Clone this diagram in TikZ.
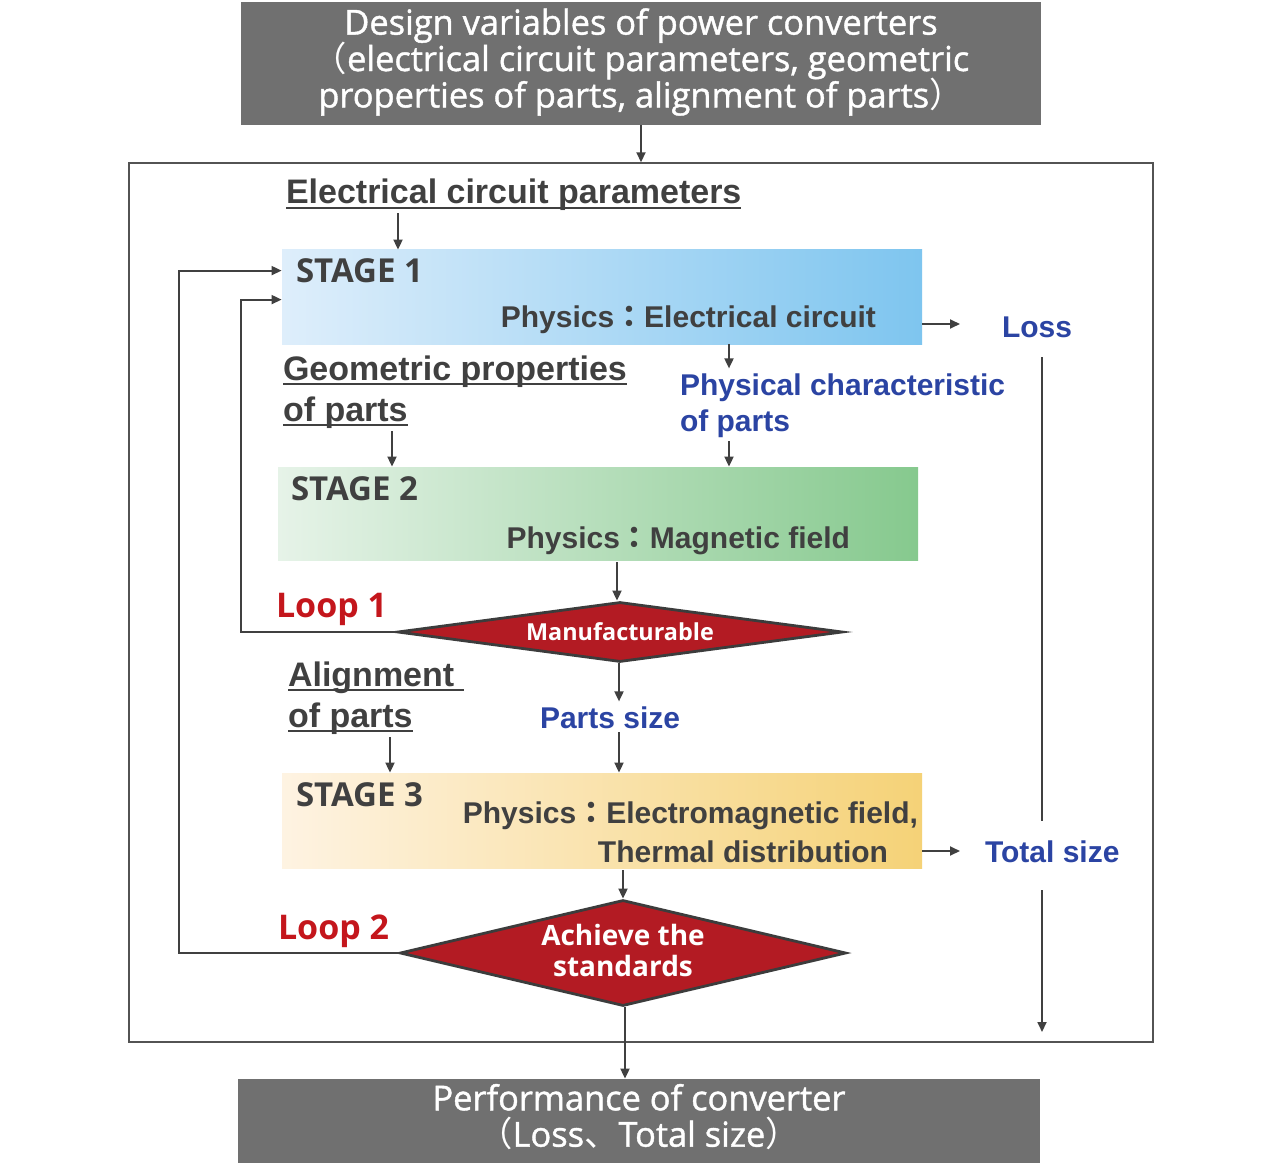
\documentclass[tikz,border=0pt]{standalone}
\usepackage{fontspec}
\usetikzlibrary{arrows.meta,shapes.geometric,calc}
\setmainfont{Liberation Sans}
\newfontfamily\osans{Open Sans}
\newfontfamily\cjk{Noto Sans CJK JP}
\newfontfamily\boxfont{Open Sans}[FakeBold=1.2]
\newfontfamily\boxcjk{Noto Sans CJK JP}
\definecolor{boxgray}{HTML}{707070}
\definecolor{dark}{HTML}{404040}
\definecolor{lblue}{HTML}{2B44A3}
\definecolor{lred}{HTML}{C4161C}
\definecolor{dfill}{HTML}{B31B23}
\definecolor{dline}{HTML}{3C3C3C}
\newcommand{\myul}[1]{\setbox0\hbox{#1}\rlap{\raisebox{-2.6pt}{\rule{\wd0}{1pt}}}\box0}
\newcommand{\fw}[1]{\smash{\cjk\bfseries #1}}
\newcommand{\bw}[1]{\smash{\boxcjk #1}}
\begin{document}
\begin{tikzpicture}[x=0.5pt,y=-0.5pt,
  arr/.style={draw=dark,line width=0.9pt,-{Triangle[length=5pt,width=4.5pt]}},
  lbl/.style={inner sep=0,outer sep=0,font=\fontsize{17}{20.5}\selectfont\bfseries,text=dark,align=left},
  plbl/.style={lbl,font=\fontsize{15}{19.5}\selectfont\bfseries},
  slbl/.style={lbl,font=\fontsize{16.5}{20}\selectfont\osans\bfseries},
  blbl/.style={lbl,text=lblue,font=\fontsize{15}{18}\selectfont\bfseries},
  rlbl/.style={lbl,text=lred,font=\fontsize{17}{20}\selectfont\osans\bfseries},
  graybox/.style={fill=boxgray,draw=none,text=white,font=\fontsize{17.2}{18.2}\selectfont\boxfont,align=center,inner sep=0},
  stagebox/.style={draw=none,inner sep=0,minimum width=320pt,minimum height=47pt},
  dia/.style={diamond,fill=dfill,draw=dline,line width=1.4pt,inner sep=0,text=white,align=center}
]
\useasboundingbox (0,0) rectangle (1284,1166);
\fill[white] (0,0) rectangle (1284,1166);

% frame
\node[draw=dark!90,line width=0.7pt,minimum width=512pt,minimum height=439.5pt,inner sep=0] (frame) at (641,602.5) {};

% top box
\node[graybox,minimum width=400pt,minimum height=61.5pt] (top) at (641,63.5) {};
\node[graybox,fill=none] (topt) at (641,62)
  {Design variables of power converters\\\bw{（}electrical circuit parameters, geometric\\properties of parts, alignment of parts\bw{）}};

% bottom box
\node[graybox,minimum width=401pt,minimum height=42pt] (bot) at (639,1121) {};
\node[graybox,fill=none] (bott) at (639,1115.5)
  {Performance of converter\\\bw{（}Loss\bw{、}Total size\bw{）}};

% stage boxes
\node[stagebox,left color={rgb,255:red,222;green,238;blue,251},right color={rgb,255:red,126;green,197;blue,239}] (s1) at (602,297) {};
\node[stagebox,minimum height=46.5pt,left color={rgb,255:red,230;green,243;blue,232},right color={rgb,255:red,134;green,201;blue,142}] (s2) at (598,513.5) {};
\node[stagebox,minimum height=47.5pt,left color={rgb,255:red,254;green,243;blue,226},right color={rgb,255:red,245;green,210;blue,119}] (s3) at (602,820.5) {};

\node[slbl,anchor=base west] (st1) at (296,283) {STAGE 1};
\node[plbl,anchor=base east] (ph1) at (876,327) {Physics\fw{：}Electrical circuit};
\node[slbl,anchor=base west] (st2) at (291,500) {STAGE 2};
\node[plbl,anchor=base east] (ph2) at (850,548) {Physics\fw{：}Magnetic field};
\node[slbl,anchor=base west] (st3) at (296,806) {STAGE 3};
\node[plbl,anchor=base east,align=right] (ph3) at (918,862) {Physics\fw{：}Electromagnetic field,\\Thermal distribution\hspace*{15pt}};

% labels
\node[lbl,anchor=base west] (ecp) at (286,204) {\myul{Electrical circuit parameters}};
\node[lbl,anchor=base west] (geo) at (283,421) {\myul{Geometric properties}\\\myul{of parts}};
\node[blbl,anchor=base west] (pch) at (680,431) {Physical characteristic\\of parts};
\node[lbl,anchor=base west] (aln) at (288,727) {\myul{Alignment\ }\\\myul{of parts}};
\node[blbl,anchor=base west] (psz) at (540,728) {Parts size};
\node[blbl,anchor=base west] (loss) at (1002,337) {Loss};
\node[blbl,anchor=base west] (tot) at (985,862) {Total size};
\node[rlbl,anchor=base west] (lp1) at (276,617) {Loop 1};
\node[rlbl,anchor=base west] (lp2) at (278,939) {Loop 2};

% diamonds
\node[dia,aspect=7.4,minimum width=222.5pt,minimum height=30pt,font=\fontsize{11.7}{13}\selectfont\osans\bfseries] (d1) at (620,632) {Manufacturable};
\node[dia,aspect=4.2,minimum width=223pt,minimum height=53pt] (d2) at (623,953) {};
\node[inner sep=0,text=white,align=center,font=\fontsize{14}{15.5}\selectfont\osans\bfseries] (d2t) at (623,950.5) {Achieve the\\standards};

% helper coordinates
\coordinate (xa) at (398,0);
\coordinate (xb) at (392,0);
\coordinate (xc) at (729,0);
\coordinate (xd) at (617,0);
\coordinate (xe) at (619,0);
\coordinate (xf) at (390,0);
\coordinate (xg) at (623,0);
\coordinate (xh) at (625,0);
\coordinate (xr) at (1042,0);
\coordinate (yl) at (0,324);
\coordinate (yt) at (0,851);
\coordinate (lossend) at (960,324);
\coordinate (totend) at (960,851);
\coordinate (frameend) at (1042,1032);

% connectors
\draw[arr] (top.south) -- (frame.north);
\draw[arr,shorten <=1pt] (ecp.south -| xa) -- (s1.north -| xa);
\draw[arr,shorten <=1.5pt] (geo.south -| xb) -- (s2.north -| xb);
\draw[arr] (s1.south -| xc) -- ($(s1.south -| xc)+(0,24)$);
\draw[arr,shorten <=2pt] (pch.south -| xc) -- (s2.north -| xc);
\draw[arr,shorten <=1pt] (s2.south -| xd) -- (d1.north -| xd);
\draw[arr] (d1.south -| xe) -- ($(d1.south -| xe)+(0,38)$);
\draw[arr,shorten <=2pt] (psz.south -| xe) -- (s3.north -| xe);
\draw[arr,shorten <=1.5pt] (aln.south -| xf) -- (s3.north -| xf);
\draw[arr,shorten <=1pt] (s3.south -| xg) -- (d2.north -| xg);
\draw[arr] (d2.south -| xh) -- (bot.north -| xh);
\draw[arr] (s1.east |- yl) -- (lossend);
\draw[arr] (s3.east |- yt) -- (totend);
\draw[draw=dark,line width=0.9pt,shorten <=10pt,shorten >=9.5pt] (loss.south -| xr) -- (tot.north -| xr);
\draw[arr,shorten <=14pt] (tot.south -| xr) -- (frameend);
% loops
\draw[arr] (d1.west) -| ($(s1.north west)+(-41,50)$) -- ($(s1.north west)+(0,50)$);
\draw[arr] (d2.west) -| ($(s1.north west)+(-103,21)$) -- ($(s1.north west)+(0,21)$);
\end{tikzpicture}
\end{document}
